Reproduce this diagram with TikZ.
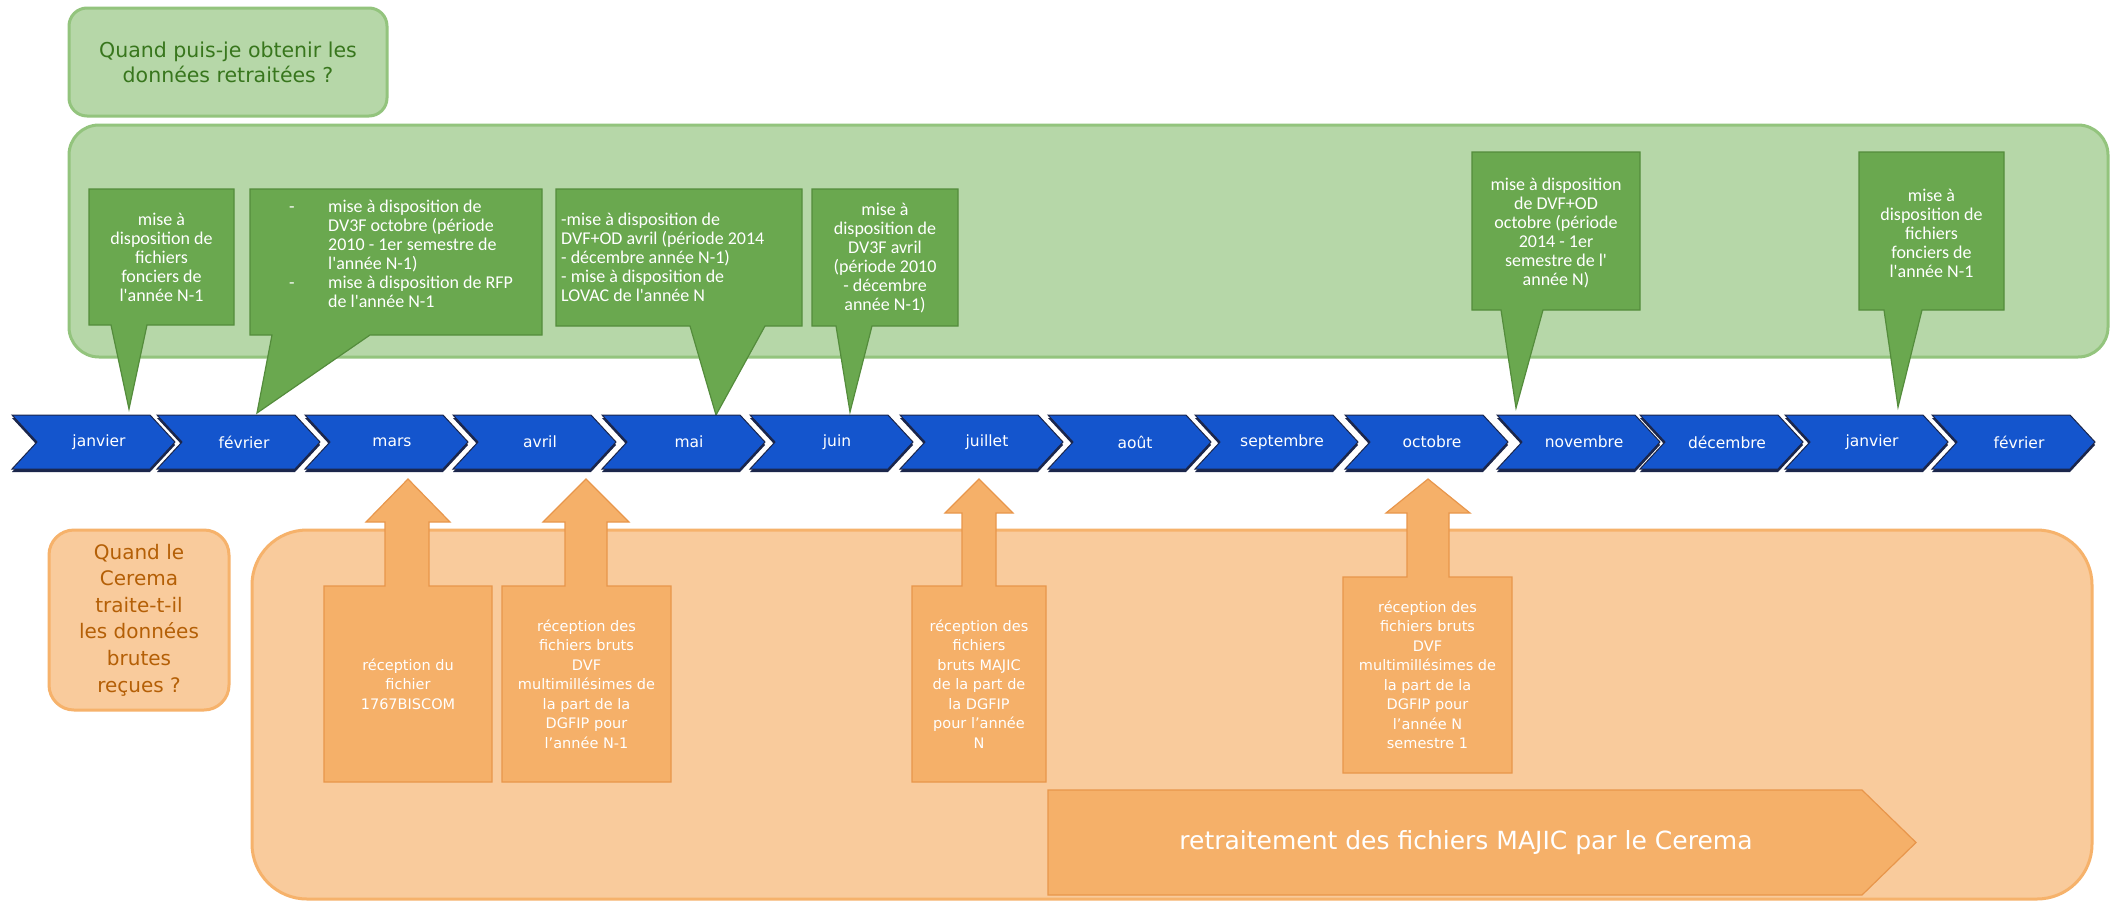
\documentclass[tikz,border=0pt]{standalone}
\usepackage{fontspec}
\setmainfont{DejaVu Sans}
\newfontfamily\narrowf{Carlito}
\definecolor{chevblue}{RGB}{20,85,205}
\definecolor{chevline}{RGB}{27,38,75}
\definecolor{glight}{RGB}{182,215,168}
\definecolor{gborder}{RGB}{147,196,125}
\definecolor{gcall}{RGB}{106,168,79}
\definecolor{gcallb}{RGB}{84,140,60}
\definecolor{gtext}{RGB}{56,118,29}
\definecolor{olight}{RGB}{249,203,156}
\definecolor{oborder}{RGB}{246,178,107}
\definecolor{ocall}{RGB}{245,176,105}
\definecolor{ocallb}{RGB}{232,150,75}
\definecolor{otext}{RGB}{180,95,6}
\tikzset{
  gpanelst/.style={draw=gborder, fill=glight, line width=3pt, rounded corners=30pt, inner sep=0pt},
  gtitlest/.style={draw=gborder, fill=glight, line width=3pt, rounded corners=18pt, inner sep=0pt,
    text=gtext, align=center, font=\fontsize{20.5}{25}\selectfont},
  opanelst/.style={draw=oborder, fill=olight, line width=3pt, rounded corners=55pt, inner sep=0pt},
  otitlest/.style={draw=oborder, fill=olight, line width=3pt, rounded corners=25pt, inner sep=0pt,
    text=otext, align=center, font=\fontsize{20}{26.6}\selectfont},
  gcallst/.style={fill=gcall, draw=gcallb, line width=1.2pt, line join=miter},
  ocallst/.style={fill=ocall, draw=ocallb, line width=1.2pt, line join=miter},
  gtxt/.style={text=white, inner sep=0pt, align=center, font=\narrowf\fontsize{18}{19}\selectfont},
  otxt/.style={text=white, inner sep=0pt, align=center, font=\fontsize{14.5}{19.5}\selectfont},
  mlabel/.style={text=white, inner sep=0pt, font=\fontsize{15.5}{18}\selectfont},
  chevst/.style={fill=chevblue, draw=chevline, line width=1pt, line join=miter},
  chevshadow/.style={fill=chevline},
}
\begin{document}
\begin{tikzpicture}[x=1pt,y=-1pt]
\useasboundingbox (0,0) rectangle (2112,903);
\fill[white] (0,0) rectangle (2112,903);

% ---------- top part ----------
\node[gpanelst, minimum width=2039pt, minimum height=232pt] (gp) at (1088.5,241) {};
\node[gtitlest, minimum width=318pt, minimum height=108pt] (t1) at (228,62)
  {Quand puis-je obtenir les\\données retraitées ?};

% green callouts
\draw[gcallst] (89,189) -- (234,189) -- (234,325) -- (147,325) -- (129,409) -- (111,325) -- (89,325) -- cycle;
\node[gtxt] (g1) at (161.5,257) {mise à\\disposition de\\fichiers\\fonciers de\\l'année N-1};

\draw[gcallst] (250,189) -- (542,189) -- (542,335) -- (370,335) -- (257,413) -- (272,335) -- (250,335) -- cycle;
\node[gtxt, anchor=west, align=left] (g2) at (289,256)
  {\begin{tabular}{@{}p{39pt}@{}l@{}}-&mise à disposition de\\&DV3F octobre (période\\&2010 - 1er semestre de\\&l'année N-1)\\-&mise à disposition de RFP\\&de l'année N-1\end{tabular}};

\draw[gcallst] (556,189) -- (802,189) -- (802,326) -- (765,326) -- (716,415) -- (690,326) -- (556,326) -- cycle;
\node[gtxt, anchor=west, align=left] (g3) at (561,257)
  {-mise à disposition de\\DVF+OD avril (période 2014\\- décembre année N-1)\\- mise à disposition de\\LOVAC de l'année N};

\draw[gcallst] (812,189) -- (958,189) -- (958,326) -- (872,326) -- (850,412) -- (836,326) -- (812,326) -- cycle;
\node[gtxt] (g4) at (885,258) {mise à\\disposition de\\DV3F avril\\(période 2010\\- décembre\\année N-1)};

\draw[gcallst] (1472,152) -- (1640,152) -- (1640,310) -- (1543,310) -- (1516,408) -- (1501,310) -- (1472,310) -- cycle;
\node[gtxt] (g5) at (1556,233) {mise à disposition\\de DVF+OD\\octobre (période\\2014 - 1er\\semestre de l'\\année N)};

\draw[gcallst] (1859,152) -- (2004,152) -- (2004,310) -- (1922,310) -- (1898,407) -- (1884,310) -- (1859,310) -- cycle;
\node[gtxt] (g6) at (1931.5,233) {mise à\\disposition de\\fichiers\\fonciers de\\l'année N-1};

% ---------- bottom part ----------
\node[opanelst, minimum width=1840pt, minimum height=369pt] (op) at (1172,714.5) {};
\node[otitlest, minimum width=180pt, minimum height=180pt] (t2) at (139,620)
  {Quand le\\Cerema\\traite-t-il\\les données\\brutes\\reçues ?};

\draw[ocallst] (324,586) -- (385,586) -- (385,522) -- (366,522) -- (408,479) -- (450,522) -- (429,522) -- (429,586) -- (492,586) -- (492,782) -- (324,782) -- cycle;
\node[otxt] (o1) at (408,684) {réception du\\fichier\\1767BISCOM};

\draw[ocallst] (502,586) -- (565,586) -- (565,522) -- (543,522) -- (586,479) -- (629,522) -- (607,522) -- (607,586) -- (671,586) -- (671,782) -- (502,782) -- cycle;
\node[otxt] (o2) at (586.5,684) {réception des\\fichiers bruts\\DVF\\multimillésimes de\\la part de la\\DGFIP pour\\l'année N-1};

\draw[ocallst] (912,586) -- (962,586) -- (962,513) -- (945,513) -- (979,479) -- (1013,513) -- (996,513) -- (996,586) -- (1046,586) -- (1046,782) -- (912,782) -- cycle;
\node[otxt] (o3) at (979,684) {réception des\\fichiers\\bruts MAJIC\\de la part de\\la DGFIP\\pour l'année\\N};

\draw[ocallst] (1343,577) -- (1407,577) -- (1407,513) -- (1386,513) -- (1428,479) -- (1470,513) -- (1449,513) -- (1449,577) -- (1512,577) -- (1512,773) -- (1343,773) -- cycle;
\node[otxt] (o4) at (1427.5,675) {réception des\\fichiers bruts\\DVF\\multimillésimes de\\la part de la\\DGFIP pour\\l'année N\\semestre 1};

\draw[ocallst] (1048,790) -- (1862,790) -- (1916,842.5) -- (1862,895) -- (1048,895) -- cycle;
\node[text=white, inner sep=0pt, font=\fontsize{25}{30}\selectfont] (r) at (1466,843)
  {retraitement des fichiers MAJIC par le Cerema};

% ---------- timeline ----------
\foreach \L/\m [count=\i] in {12/janvier, 157/février, 305/mars, 453/avril, 602/mai, 750/juin, 900/juillet, 1048/août, 1195/septembre, 1345/octobre, 1497/novembre, 1640/décembre, 1785/janvier, 1932/février}{
  \fill[chevshadow] (\L,418) -- ++(138,0) -- ++(25,27) -- ++(-25,27) -- ++(-138,0) -- ++(25,-27) -- cycle;
  \draw[chevst] (\L,415) -- ++(138,0) -- ++(25,27) -- ++(-25,27) -- ++(-138,0) -- ++(25,-27) -- cycle;
  \node[mlabel] (m\i) at (\L+87,442) {\m};
}
\end{tikzpicture}
\end{document}
